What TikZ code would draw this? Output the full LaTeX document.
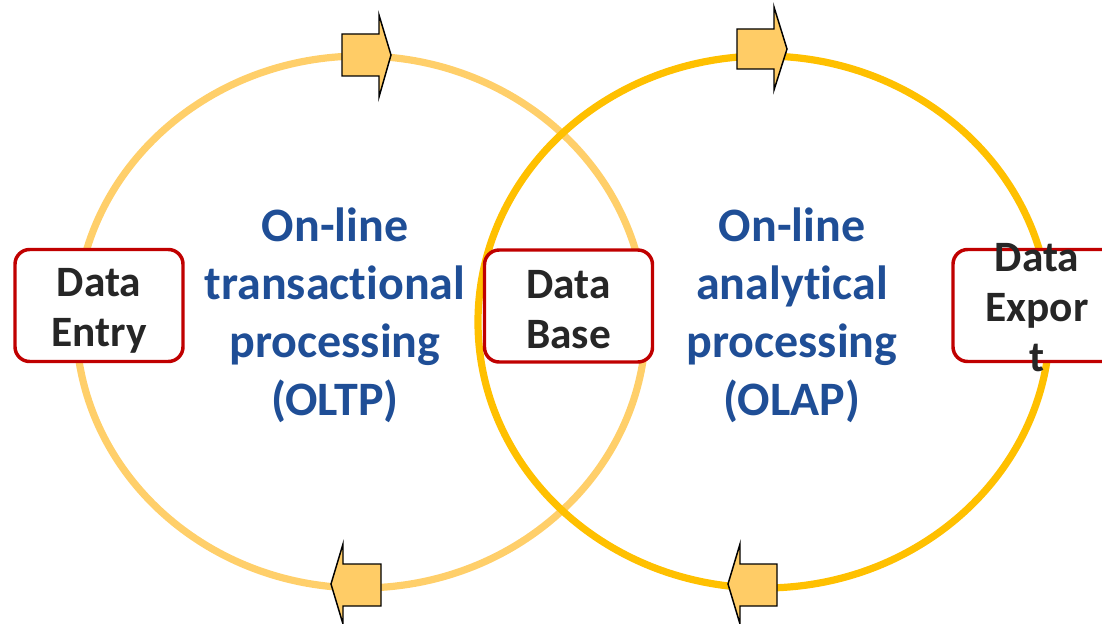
\documentclass[tikz,border=0pt]{standalone}
\usepackage{fontspec}
\setmainfont{Carlito}[RawFeature=-liga]
\definecolor{ringlight}{HTML}{FFCF6A}
\definecolor{ringgold}{HTML}{FFC000}
\definecolor{arrowfill}{HTML}{FFCC66}
\definecolor{boxred}{HTML}{C00000}
\definecolor{titleblue}{HTML}{1F4E96}
\definecolor{darktext}{HTML}{262626}
\tikzset{
  ring/.style={line width=5.4pt},
  flowarrow/.style={fill=arrowfill, draw=black, line width=1.1pt, line join=miter},
  storebox/.style={draw=boxred, fill=white, line width=2.6pt, rounded corners=11pt,
    minimum width=126pt, minimum height=84pt, inner sep=0pt},
  boxtext/.style={text=darktext, align=center, inner sep=0pt,
    font=\fontsize{32.5}{37.5}\selectfont\bfseries},
  cycletext/.style={text=titleblue, align=center, inner sep=0pt,
    font=\fontsize{36}{43.5}\selectfont\bfseries}
}
\begin{document}
\begin{tikzpicture}[x=0.75pt,y=-0.75pt]
\useasboundingbox (0,0) rectangle (1102,624);

% the two processing cycles
\draw[ring, draw=ringlight] (361,322) ellipse [x radius=285, y radius=266];
\draw[ring, draw=ringgold] (764,322) ellipse [x radius=286, y radius=266];

% direction arrows on top of the cycles
\draw[flowarrow] (342,34) -- (379,34) -- (379,15) -- (391,55) -- (379,97) -- (379,76) -- (342,76) -- cycle;
\draw[flowarrow] (737,29) -- (774,29) -- (774,7) -- (787,49) -- (774,90) -- (774,69) -- (737,69) -- cycle;
\draw[flowarrow] (381,564) -- (343,564) -- (343,544) -- (331,584) -- (343,624) -- (343,606) -- (381,606) -- cycle;
\draw[flowarrow] (777,564) -- (740,564) -- (740,544) -- (728,584) -- (740,624) -- (740,606) -- (777,606) -- cycle;

% stores
\node[storebox] (entry) at (99,305.5) {};
\node[storebox] (base) at (568.5,306) {};
\node[storebox] (export) at (1037,305.5) {};
\node[boxtext] (entrytxt) at (99,311) {Data\\Entry};
\node[boxtext] (basetxt) at (568.5,310) {Data\\Base};
\node[boxtext] (exporttxt) at (1037,308) {Data\\Expor\\t};

% cycle titles
\node[cycletext] (oltp) at (335,315) {On-line\\transactional\\processing\\(OLTP)};
\node[cycletext] (olap) at (792,315) {On-line\\analytical\\processing\\(OLAP)};
\end{tikzpicture}
\end{document}
